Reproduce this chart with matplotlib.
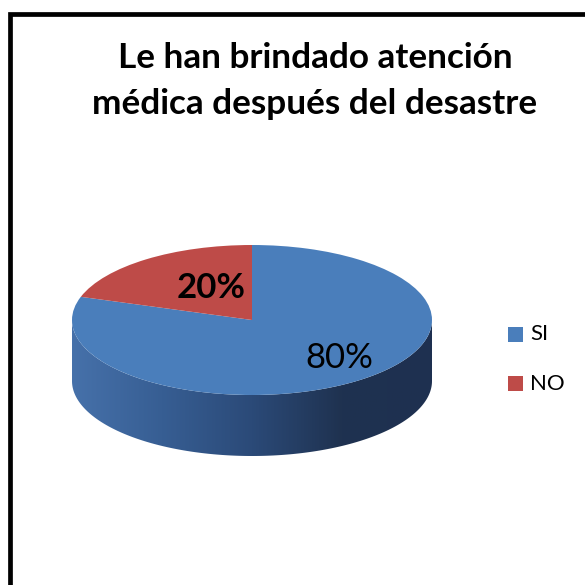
import numpy as np
import matplotlib.pyplot as plt
from matplotlib.patches import Rectangle, Polygon
from matplotlib.transforms import Affine2D
from matplotlib.colors import LinearSegmentedColormap

# Data
labels = ["SI", "NO"]
values = [80, 20]
pct_labels = ["80%", "20%"]
colors = ["#4A7EBB", "#BE4B48"]

title = "Le han brindado atención\nmédica después del desastre"

# Geometry in pixel-like data coordinates (y up)
W = H = 585
cx, cy = 252, 585 - 320
a, b = 180, 75
depth = 61

plt.rcParams['font.family'] = ['Lato', 'DejaVu Sans']

fig = plt.figure(figsize=(5.85, 5.85), dpi=100)
ax = fig.add_axes([0, 0, 1, 1])

# chart frame
ax.add_patch(Rectangle((9.5, -20), 700, 585 - 13.5 + 20, fill=False,
                       edgecolor='black', linewidth=3.4))

# side of the 3D pie (front half)
t = np.linspace(np.pi, 2 * np.pi, 200)
top_x = cx + a * np.cos(t)
top_y = cy + b * np.sin(t)
side = np.concatenate([
    np.column_stack([top_x, top_y]),
    np.column_stack([top_x[::-1], top_y[::-1] - depth]),
])
side_patch = Polygon(side, closed=True, facecolor='none', edgecolor='none')
ax.add_patch(side_patch)
side_cmap = LinearSegmentedColormap.from_list(
    'side', ["#4671AA", "#375E93", "#2B4A78", "#1F3250", "#1E3050"])
grad = np.linspace(0, 1, 256).reshape(1, -1)
im = ax.imshow(grad, cmap=side_cmap, aspect='auto',
               extent=[cx - a, cx + a, cy - b - depth, cy], zorder=1)
im.set_clip_path(side_patch)

# top face: pie squashed vertically
wedges, _ = ax.pie(values, colors=colors, startangle=90, counterclock=False,
                   center=(cx, cy), radius=a, frame=True,
                   wedgeprops=dict(linewidth=0))
squash = Affine2D().translate(-cx, -cy).scale(1, b / a).translate(cx, cy)
for w in wedges:
    w.set_transform(squash + ax.transData)
    w.set_zorder(2)
ax.set_xlim(0, W)
ax.set_ylim(0, H)
ax.set_aspect('auto')
ax.axis('off')

# percentage labels
label_pos = [(0.70, 8), (0.48, -8)]  # (radius fraction, angle tweak)
start = 90
for val, txt, (r, dth), bold in zip(values, pct_labels, label_pos, [False, True]):
    mid = start - val * 3.6 / 2
    start -= val * 3.6
    ang = np.deg2rad(mid + dth)
    x = cx + r * a * np.cos(ang)
    y = cy + r * b * np.sin(ang)
    ax.text(x, y, txt, ha='center', va='center', fontsize=25,
            fontweight='bold' if bold else 'normal', color='black', zorder=3)

# title
ax.text(315, 585 - 81, title, ha='center', va='center', fontsize=25.3,
        fontweight='bold', linespacing=1.5)

# legend
for i, (lab, col) in enumerate(zip(labels, colors)):
    yy = 585 - 334.5 - i * 49
    ax.add_patch(Rectangle((508, yy - 7.5), 15, 15, facecolor=col, edgecolor='none'))
    ax.text(530, yy, lab, ha='left', va='center', fontsize=16)

fig.savefig('out.png', dpi=100)
